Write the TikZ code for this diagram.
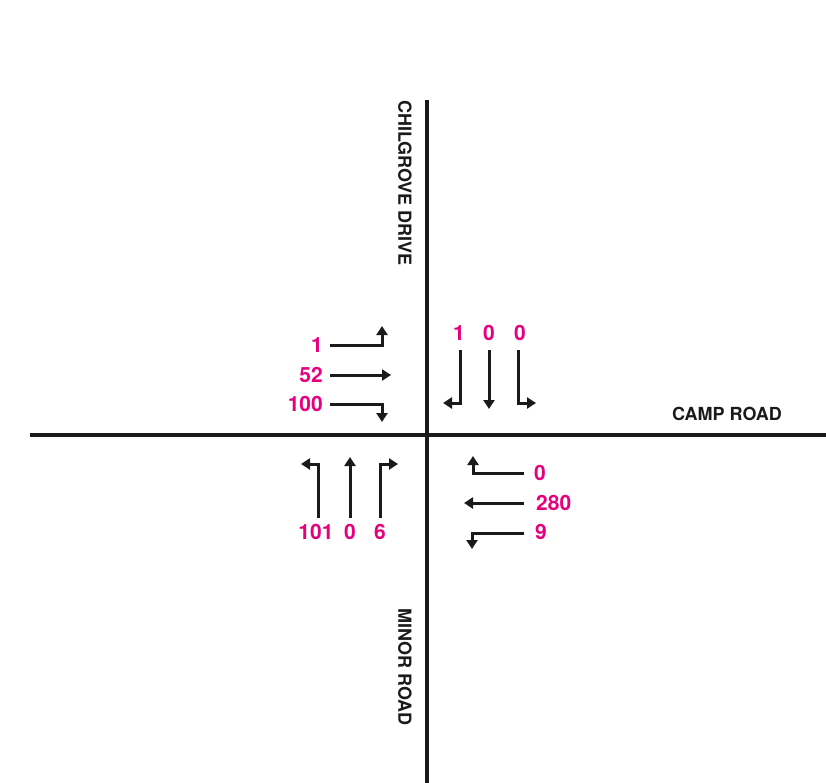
\documentclass[tikz,border=0pt]{standalone}
\usepackage{fontspec}
\setmainfont{TeX Gyre Heros}
\usetikzlibrary{arrows.meta}
\definecolor{flow}{HTML}{E6007E}
\definecolor{ink}{HTML}{1A1A1A}
\tikzset{
  road/.style={draw=ink, line width=4pt},
  roadname/.style={font=\fontsize{18}{18}\selectfont\bfseries, text=ink, inner sep=0pt},
  num/.style={font=\fontsize{21}{21}\selectfont\bfseries, text=flow, inner sep=0pt},
  arr/.style={draw=ink, line width=3pt, -{Triangle[length=9pt,width=11pt]}},
}
\begin{document}
\begin{tikzpicture}[x=1pt,y=-1pt]
\useasboundingbox (0,0) rectangle (826,783);

% roads
\coordinate (nN) at (427,100);
\coordinate (nS) at (427,783);
\coordinate (nW) at (30,435);
\coordinate (nE) at (826,435);
\draw[road] (nN) -- (nS);
\draw[road] (nW) -- (nE);

% road names
\node[roadname, rotate=-90] (chil) at (405,183) {CHILGROVE DRIVE};
\node[roadname, rotate=-90] (minor) at (405,667) {MINOR ROAD};
\node[roadname] (camp) at (727,414) {CAMP ROAD};

% eastbound approach (west arm)
\node[num, anchor=east] (w1) at (323,345) {1};
\node[num, anchor=east] (w2) at (323,375) {52};
\node[num, anchor=east] (w3) at (323,404) {100};
\coordinate (w1s) at (330,345); \coordinate (w1e) at (382,326);
\coordinate (w2s) at (330,375); \coordinate (w2e) at (391,375);
\coordinate (w3s) at (330,404); \coordinate (w3e) at (382,422);
\draw[arr] (w1s) -| (w1e);
\draw[arr] (w2s) -- (w2e);
\draw[arr] (w3s) -| (w3e);

% southbound approach (north arm)
\node[num] (n1) at (459,333) {1};
\node[num] (n2) at (489,333) {0};
\node[num] (n3) at (520,333) {0};
\coordinate (n1s) at (460,350); \coordinate (n1e) at (443,403);
\coordinate (n2s) at (489,350); \coordinate (n2e) at (489,409);
\coordinate (n3s) at (518,350); \coordinate (n3e) at (536,403);
\draw[arr] (n1s) |- (n1e);
\draw[arr] (n2s) -- (n2e);
\draw[arr] (n3s) |- (n3e);

% northbound approach (south arm)
\node[num] (s1) at (316,532) {101};
\node[num] (s2) at (350,532) {0};
\node[num] (s3) at (380,532) {6};
\coordinate (s1s) at (318,518); \coordinate (s1e) at (301,464);
\coordinate (s2s) at (350,518); \coordinate (s2e) at (350,457);
\coordinate (s3s) at (380,518); \coordinate (s3e) at (398,464);
\draw[arr] (s1s) |- (s1e);
\draw[arr] (s2s) -- (s2e);
\draw[arr] (s3s) |- (s3e);

% westbound approach (east arm)
\node[num, anchor=west] (e1) at (534,473) {0};
\node[num, anchor=west] (e2) at (536,503) {280};
\node[num, anchor=west] (e3) at (535,532) {9};
\coordinate (e1s) at (524,473); \coordinate (e1e) at (473,456);
\coordinate (e2s) at (524,503); \coordinate (e2e) at (464,503);
\coordinate (e3s) at (524,533); \coordinate (e3e) at (472,549);
\draw[arr] (e1s) -| (e1e);
\draw[arr] (e2s) -- (e2e);
\draw[arr] (e3s) -| (e3e);
\end{tikzpicture}
\end{document}
